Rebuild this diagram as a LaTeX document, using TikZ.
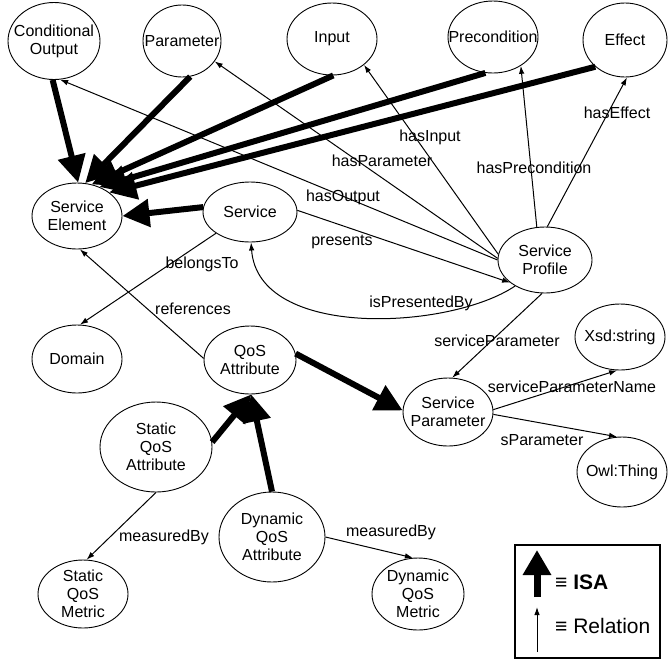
\documentclass[tikz,border=0pt]{standalone}
\usepackage{fontspec}
\setmainfont{Liberation Sans}
\usetikzlibrary{arrows.meta,shapes.geometric}

\newcommand{\nodefont}{\fontsize{16}{18}\selectfont}
\newcommand{\legfont}{\fontsize{21}{24}\selectfont}

% class node: name, x, y, width, height, text
\newcommand{\classnode}[6]{%
  \node[cls, minimum width=#4pt, minimum height=#5pt,
        label={[txt]center:#6}] (#1) at (#2,#3) {};}

\tikzset{
  cls/.style={draw, ellipse, line width=0.9pt, inner sep=0pt},
  txt/.style={align=center, inner sep=0pt, font=\nodefont},
  lbl/.style={inner sep=0pt, font=\nodefont},
  isa/.style={line width=6pt, -{Triangle[length=27pt,width=27pt]}},
  rel/.style={line width=1pt, -{Latex[length=8pt,width=5.5pt]}},
}

\begin{document}
\begin{tikzpicture}[x=1pt, y=-1pt]
\useasboundingbox[fill=white] (0,0) rectangle (668,659);

% classes
\classnode{co}{54}{41}{92}{77}{Conditional\\Output}
\classnode{par}{182}{41}{78}{72}{Parameter}
\classnode{inp}{332}{39}{90}{72}{Input}
\classnode{pre}{493}{37}{90}{72}{Precondition}
\classnode{eff}{625}{40}{84}{74}{Effect}
\classnode{se}{77}{216}{90}{66}{Service\\Element}
\classnode{srv}{250}{212}{94}{60}{Service}
\classnode{prof}{545}{260}{94}{66}{Service\\Profile}
\classnode{dom}{77}{359}{90}{68}{Domain}
\classnode{qos}{250}{360}{92}{68}{QoS\\Attribute}
\classnode{spar}{448}{412}{90}{68}{Service\\Parameter}
\classnode{xsd}{620}{337}{90}{66}{Xsd:string}
\classnode{owl}{622}{472}{90}{70}{Owl:Thing}
\classnode{sqa}{156}{447}{112}{90}{Static\\QoS\\Attribute}
\classnode{dqa}{272}{537}{106}{90}{Dynamic\\QoS\\Attribute}
\classnode{sqm}{83}{594}{90}{68}{Static\\QoS\\Metric}
\classnode{dqm}{418}{594}{92}{72}{Dynamic\\QoS\\Metric}

% ISA links
\draw[isa] (co.-92) -- (se.88);
\draw[isa] (par.-77) -- (se.76);
\draw[isa] (inp.-88) -- (se.65);
\draw[isa] (pre.-102) -- (se.52);
\draw[isa] (eff.-138) -- (se.36);
\draw[isa] (srv.174) -- (se.0);
\draw[isa] (qos.8) -- (spar.178);
\draw[isa] (sqa.5) -- (qos.-88);
\draw[isa] (dqa.90) -- (qos.-88);

% relations
\draw[rel] (prof.180) -- (co.-81);
\draw[rel] (prof.178) -- (par.-32);
\draw[rel] (prof.173) -- (inp.-39);
\draw[rel] (prof.104) -- (pre.-46);
\draw[rel] (prof.86) -- (eff.-87);
\draw[rel] (srv.2) -- (prof.213);
\draw[rel] (prof.221) .. controls (450,330) and (258,340) .. (srv.-88);
\draw[rel] (srv.212) -- (dom.85);
\draw[rel] (qos.178) -- (se.-85);
\draw[rel] (prof.-95) -- (spar.83);
\draw[rel] (spar.3) -- (xsd.-95);
\draw[rel] (spar.-3) -- (owl.98);
\draw[rel] (sqa.-90) -- (sqm.84);
\draw[rel] (dqa.0) -- (dqm.98);

% relation names
\node[lbl] (lOut) at (343,197) {hasOutput};
\node[lbl] (lPar) at (382,161) {hasParameter};
\node[lbl] (lInp) at (430,137) {hasInput};
\node[lbl] (lPre) at (534,168) {hasPrecondition};
\node[lbl] (lEff) at (617,113) {hasEffect};
\node[lbl] (lPres) at (342,242) {presents};
\node[lbl] (lIsPres) at (421,303) {isPresentedBy};
\node[lbl] (lBel) at (202,264) {belongsTo};
\node[lbl] (lRef) at (193,309) {references};
\node[lbl] (lSP) at (497,341) {serviceParameter};
\node[lbl] (lSPN) at (572,387) {serviceParameterName};
\node[lbl] (lSPar) at (542,440) {sParameter};
\node[lbl] (lMs) at (164,537) {measuredBy};
\node[lbl] (lMd) at (391,532) {measuredBy};

% legend
\node[draw, line width=1.5pt, minimum width=145pt, minimum height=113pt,
      inner sep=0pt] (legend) at (587.5,601.5) {};
\coordinate (isaFrom) at (537,597);
\coordinate (isaTo) at (537,550);
\draw[line width=7pt, -{Triangle[length=25pt,width=27pt]}] (isaFrom) -- (isaTo);
\coordinate (relFrom) at (537,652);
\coordinate (relTo) at (537,607);
\draw[rel] (relFrom) -- (relTo);
\node[anchor=west, inner sep=0pt, font=\legfont\bfseries] (isaText) at (555,582) {≡ ISA};
\node[anchor=west, inner sep=0pt, font=\legfont] (relText) at (555,626) {≡ Relation};
\end{tikzpicture}
\end{document}
